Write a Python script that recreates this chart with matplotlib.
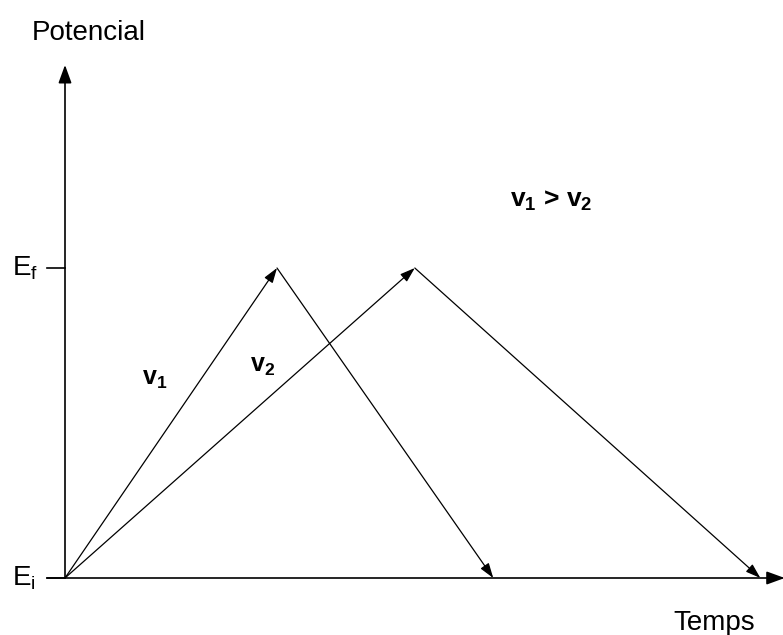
import matplotlib.pyplot as plt

plt.rcParams['font.family'] = ['Liberation Sans', 'DejaVu Sans']

# potential levels
E_levels = [0, 1]
E_labels = ['E$_\\mathregular{i}$', 'E$_\\mathregular{f}$']

# triangular sweeps: time of start, peak, end
t_v1 = [0, 1.0, 2.02]
t_v2 = [0, 1.65, 3.28]
E_sweep = [0, 1, 0]

fig = plt.figure(figsize=(7.83, 6.35), dpi=100)
ax = fig.add_axes([0, 0, 1, 1])
ax.set_xlim(-65 / 212, (783 - 65) / 212)
ax.set_ylim((578 - 635) / 310, 578 / 310)
ax.axis('off')

axis_arrow = dict(arrowstyle='-|>,head_length=1.1,head_width=0.4', lw=1.2,
                  color='black', shrinkA=0, shrinkB=0)
line_arrow = dict(arrowstyle='-|>,head_length=0.9,head_width=0.3', lw=0.9,
                  color='black', shrinkA=0, shrinkB=0)

# axes with arrows
ax.annotate('', xy=(0, 1.655), xytext=(0, 0), arrowprops=axis_arrow,
            annotation_clip=False)
ax.annotate('', xy=(3.395, 0), xytext=(-0.085, 0), arrowprops=axis_arrow,
            annotation_clip=False)

# tick marks and labels for Ei / Ef
for e, lab in zip(E_levels, E_labels):
    ax.plot([-0.085, 0], [e, e], color='black', lw=1.2)
    ax.text(-0.25, e, lab, fontsize=20, ha='left', va='center')

# sweeps
for t in (t_v1, t_v2):
    for i in range(len(t) - 1):
        ax.annotate('', xy=(t[i + 1], E_sweep[i + 1]), xytext=(t[i], E_sweep[i]),
                    arrowprops=line_arrow, annotation_clip=False)

ax.text(-0.156, 1.735, 'Potencial', fontsize=20, ha='left', va='baseline')
ax.text(2.868, -0.168, 'Temps', fontsize=20, ha='left', va='baseline')
ax.text(0.363, 0.623, 'v$_\\mathregular{1}$', fontsize=18, fontweight='bold',
        ha='left', va='baseline')
ax.text(0.873, 0.665, 'v$_\\mathregular{2}$', fontsize=18, fontweight='bold',
        ha='left', va='baseline')
ax.text(2.10, 1.197, 'v$_\\mathregular{1}$ > v$_\\mathregular{2}$', fontsize=19,
        fontweight='bold', ha='left', va='baseline')

fig.savefig('out.png', dpi=100)
